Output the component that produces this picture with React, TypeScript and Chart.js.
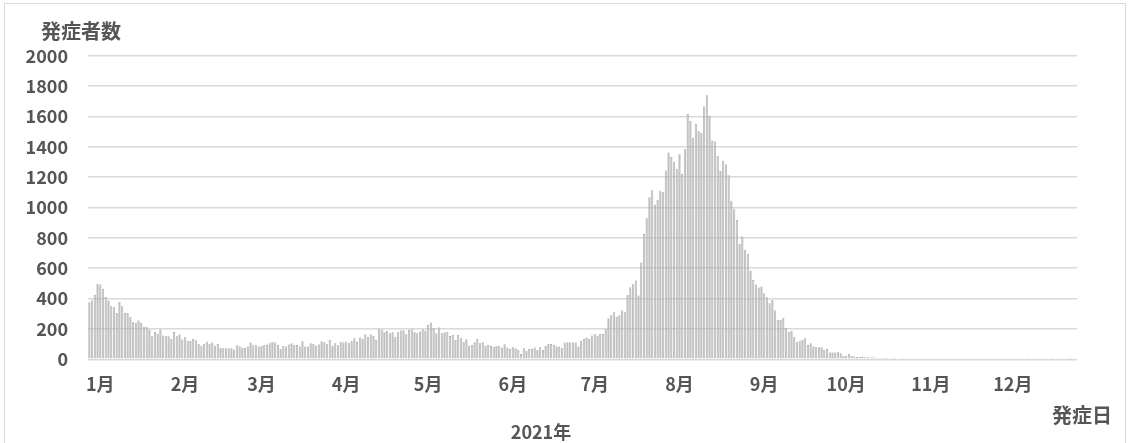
import React, { useEffect, useRef } from "react";
import { Chart, registerables } from "chart.js";

Chart.register(...registerables);

// Daily onset counts (発症者数) by onset date, 2020-12-28 .. 2021-12-24
const dec2020 = [376, 387, 426, 497];
const jan = [492, 464, 411, 387, 349, 343, 305, 378, 349, 305, 305, 279, 244, 240, 255, 240, 215, 215, 196, 152, 180, 167, 196, 156, 152, 152, 136, 180, 152, 163, 130];
const feb = [145, 123, 123, 134, 125, 101, 90, 103, 116, 103, 110, 90, 101, 75, 73, 73, 73, 73, 64, 92, 86, 75, 75, 84, 110, 92, 92, 84];
const mar = [90, 92, 95, 105, 114, 110, 95, 68, 88, 84, 97, 105, 95, 95, 84, 119, 84, 84, 105, 101, 90, 97, 119, 112, 99, 127, 90, 105, 92, 114, 110];
const apr = [116, 105, 119, 138, 114, 143, 134, 165, 149, 165, 154, 127, 198, 193, 182, 187, 171, 178, 149, 178, 189, 191, 165, 193, 198, 182, 171, 182, 198, 189];
const may = [226, 242, 204, 171, 209, 171, 178, 182, 154, 160, 127, 160, 138, 116, 132, 88, 95, 112, 134, 105, 112, 90, 95, 88, 81, 90, 90, 77, 99, 77, 68];
const jun = [79, 73, 62, 35, 73, 57, 68, 68, 77, 62, 79, 62, 90, 101, 101, 95, 84, 84, 73, 110, 112, 112, 110, 110, 84, 121, 134, 143, 134, 156];
const jul = [165, 154, 167, 167, 198, 270, 290, 310, 281, 290, 321, 310, 424, 475, 495, 519, 420, 637, 826, 930, 1068, 1114, 1018, 1051, 1110, 1101, 1244, 1363, 1332, 1301, 1255];
const aug = [1350, 1220, 1383, 1616, 1572, 1459, 1550, 1506, 1490, 1666, 1739, 1605, 1442, 1435, 1341, 1240, 1308, 1284, 1213, 1044, 989, 917, 761, 809, 721, 695, 585, 523, 492, 473, 479];
const sep = [435, 409, 369, 391, 321, 259, 259, 273, 204, 182, 187, 149, 112, 119, 127, 138, 95, 106, 84, 79, 79, 79, 62, 68, 44, 44, 44, 46, 40, 24];
const oct = [24, 35, 22, 18, 15, 15, 18, 13, 13, 12, 14, 10, 11, 9, 8, 10, 7, 9, 8, 6, 7, 8, 6, 5, 7, 6, 5, 6, 4, 5, 6];
const nov = [6, 5, 7, 5, 4, 6, 5, 4, 7, 5, 4, 6, 5, 4, 5, 7, 6, 4, 5, 6, 4, 5, 7, 5, 6, 4, 5, 6, 5, 4];
const dec = [5, 6, 4, 7, 5, 6, 9, 5, 4, 6, 5, 7, 6, 5, 8, 6, 5, 7, 6, 5, 7, 9, 6, 5];

const monthBlocks = [
  { year: 2020, month: 12, startDay: 28, values: dec2020 },
  { year: 2021, month: 1, startDay: 1, values: jan },
  { year: 2021, month: 2, startDay: 1, values: feb },
  { year: 2021, month: 3, startDay: 1, values: mar },
  { year: 2021, month: 4, startDay: 1, values: apr },
  { year: 2021, month: 5, startDay: 1, values: may },
  { year: 2021, month: 6, startDay: 1, values: jun },
  { year: 2021, month: 7, startDay: 1, values: jul },
  { year: 2021, month: 8, startDay: 1, values: aug },
  { year: 2021, month: 9, startDay: 1, values: sep },
  { year: 2021, month: 10, startDay: 1, values: oct },
  { year: 2021, month: 11, startDay: 1, values: nov },
  { year: 2021, month: 12, startDay: 1, values: dec },
];

const yMin = 0;
const yMax = 2000;
const yStep = 200;

const yTitle = "発症者数";
const xTitle = "発症日";
const yearTitle = "2021年";

const labels: string[] = [];
const tickText: string[] = [];
const values: number[] = [];
monthBlocks.forEach((b) => {
  b.values.forEach((v, i) => {
    const day = b.startDay + i;
    labels.push(`${b.year}/${b.month}/${day}`);
    tickText.push(b.year === 2021 && day === 1 ? `${b.month}月` : "");
    values.push(v);
  });
});

const FONT = '"Noto Sans CJK JP", "Noto Sans", sans-serif';
const TEXT = "#555555";

const titlesPlugin = {
  id: "titlesPlugin",
  afterDraw(chart: any) {
    const ctx = chart.ctx;
    ctx.save();
    ctx.fillStyle = TEXT;
    ctx.textAlign = "center";
    ctx.textBaseline = "middle";
    ctx.font = `bold 20px ${FONT}`;
    ctx.fillText(yTitle, 81, 31);
    ctx.fillText(xTitle, 1082, 415);
    ctx.font = `bold 18px ${FONT}`;
    ctx.fillText(yearTitle, 541, 432);
    ctx.restore();
  },
};

export default function App() {
  const ref = useRef<HTMLCanvasElement | null>(null);
  useEffect(() => {
    if (!ref.current) return;
    const chart = new Chart(ref.current, {
      type: "bar",
      data: {
        labels,
        datasets: [
          {
            data: values,
            backgroundColor: "#c0c0c0",
            borderColor: "#888888",
            borderWidth: 0.5,
            barPercentage: 0.78,
            categoryPercentage: 1,
          },
        ],
      },
      options: {
        animation: false,
        responsive: false,
        devicePixelRatio: 1,
        layout: { padding: { top: 55.7, right: 53, left: 0, bottom: 0 } },
        plugins: {
          legend: { display: false },
          tooltip: { enabled: false },
          title: { display: false },
        },
        scales: {
          x: {
            type: "category",
            offset: true,
            grid: { display: false, drawTicks: false },
            border: { display: false },
            ticks: {
              autoSkip: false,
              maxRotation: 0,
              minRotation: 0,
              padding: 14,
              color: TEXT,
              font: { family: FONT, size: 18, weight: "bold" },
              callback: (_v: any, i: number) => tickText[i],
            },
            afterFit: (s: any) => {
              s.height = 443 - 359.3;
            },
          },
          y: {
            min: yMin,
            max: yMax,
            grid: { color: "#d9d9d9", lineWidth: 1.5, drawTicks: false },
            border: { display: false },
            ticks: {
              stepSize: yStep,
              padding: 20,
              color: TEXT,
              font: { family: FONT, size: 18, weight: "bold" },
              callback: (v: any) => String(v),
            },
            afterFit: (s: any) => {
              s.width = 88;
            },
          },
        },
      },
      plugins: [titlesPlugin],
    });
    return () => chart.destroy();
  }, []);

  return (
    <div
      style={{
        position: "fixed",
        left: 0,
        top: 0,
        width: 1130,
        height: 443,
        overflow: "hidden",
        background: "#ffffff",
      }}
    >
      <div
        style={{
          position: "absolute",
          left: 4,
          top: 3,
          width: 1122,
          height: 520,
          border: "1px solid #d9d9d9",
          boxSizing: "border-box",
        }}
      />
      <canvas
        ref={ref}
        width={1130}
        height={443}
        style={{ position: "absolute", left: 0, top: 0, width: 1130, height: 443 }}
      />
    </div>
  );
}
